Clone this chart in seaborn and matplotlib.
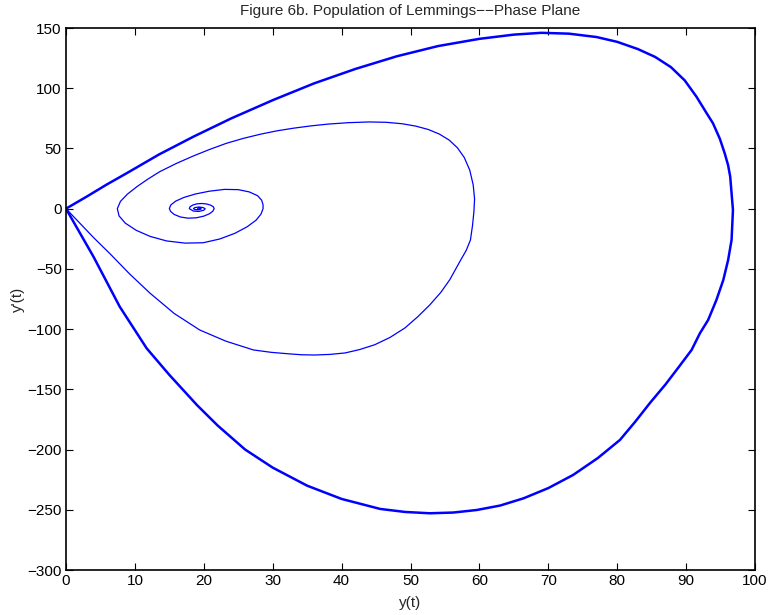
import numpy as np
import pandas as pd
import seaborn as sns
import matplotlib
matplotlib.use("Agg")
import matplotlib.pyplot as plt

sns.set_theme(style="white")
plt.rcParams["font.family"] = ["Liberation Sans", "DejaVu Sans"]

# transient: spiral out of the equilibrium, then the first big swing back to 0
spiral_y = [19.1, 19.3, 19.6, 19.6, 19.2, 18.7, 18.5, 18.7, 19.3, 19.9, 20.2, 20.0, 19.3, 18.5, 17.9,
            18.0, 18.4, 19.0, 19.7, 20.4, 21.0, 21.4, 21.5,
            21.3, 20.8, 20.0, 18.9, 17.7, 16.6, 15.7, 15.2, 15.0,
            15.2, 15.9, 17.1, 18.8, 20.8, 23.0, 25.0, 26.6, 27.8, 28.4, 28.6, 28.6,
            28.3, 27.6, 26.3, 24.5, 22.3, 19.9, 17.3, 14.6, 12.2, 10.2, 8.6, 7.7, 7.45,
            7.9, 8.9, 10.3, 11.9, 13.6, 16.0, 18.5, 20.9, 23.3, 25.7, 28.2, 30.6, 33.0, 35.5, 38.0, 41.0, 44.0,
            46.5, 48.8, 50.8, 52.6, 54.2, 55.6, 56.8, 57.8, 58.6, 59.1, 59.3, 59.2,
            59.0, 58.7, 58.1, 57.3, 55.7, 54.4, 52.8, 51.0, 49.2, 47.0, 44.8, 42.6, 40.5, 38.3, 36.1, 34.2, 32.5,
            29.8, 27.2, 23.2, 19.4, 15.7, 12.2, 9.2, 6.4, 4.0, 2.0, 0.0]
spiral_dy = [0.0, 0.5, 0.2, -0.4, -0.9, -0.7, 0.0, 0.9, 1.4, 0.9, 0.0, -1.3, -2.3, -2.0, 0.0,
             1.6, 3.0, 4.0, 4.3, 3.9, 2.9, 1.5, 0.0,
             -2.2, -4.3, -6.2, -7.6, -7.9, -6.9, -4.8, -2.4, 0.0,
             3.0, 6.2, 9.3, 12.2, 14.5, 16.0, 15.8, 13.9, 10.8, 7.0, 3.2, 0.0,
             -4.5, -9.5, -15.0, -20.5, -25.2, -28.3, -28.6, -26.8, -23.0, -18.0, -12.0, -6.0, 0.0,
             6.0, 12.0, 18.3, 24.6, 30.7, 37.5, 43.8, 49.3, 54.3, 58.3, 61.8, 64.6, 66.8, 68.7, 70.2, 71.4, 72.0,
             71.7, 70.5, 68.5, 65.7, 61.9, 57.0, 50.6, 42.5, 32.0, 19.7, 8.0, -2.7,
             -14.0, -26.0, -34.5, -42.5, -59.0, -69.5, -79.9, -90.0, -99.0, -107.0, -113.0, -117.0, -119.8, -121.0, -121.5, -121.3, -120.6,
             -119.3, -117.3, -110.0, -100.7, -87.0, -70.2, -54.0, -37.5, -24.0, -12.0, 0.0]

# limit cycle (traced several times in the original, drawn heavier)
cycle_y = [0.0, 3.0, 5.9, 8.8, 13.5, 18.5, 24.0, 30.1, 36.0, 42.0, 48.0, 54.0, 60.0, 65.0, 69.0, 73.0, 77.0,
           80.0, 83.0, 85.5, 87.8, 89.8, 91.5, 92.9, 93.9, 94.9, 95.6, 96.1, 96.4, 96.6, 96.8,
           96.6, 96.1, 95.4, 94.4, 93.2, 92.0, 90.8, 89.0, 87.0, 84.8, 82.6, 80.4, 77.2, 73.6, 70.0, 66.4,
           63.0, 59.6, 56.2, 52.8, 49.2, 45.6, 40.0, 35.0, 30.0, 26.0, 22.0, 19.0, 15.0, 11.7, 7.8, 4.0, 2.0, 0.0]
cycle_dy = [0.0, 10.0, 20.0, 29.4, 45.0, 59.8, 75.0, 90.3, 104.0, 116.0, 126.5, 135.0, 141.0, 144.5, 146.0, 145.3, 142.5,
            138.5, 132.5, 126.0, 117.5, 106.5, 93.0, 80.0, 70.9, 58.0, 46.0, 36.0, 26.6, 12.8, -1.0,
            -26.0, -42.6, -59.2, -75.8, -92.4, -103.5, -117.3, -131.0, -146.0, -161.0, -177.0, -192.0, -207.0, -221.1, -232.0, -240.5,
            -246.5, -250.2, -252.3, -252.9, -251.8, -249.3, -241.0, -230.0, -215.0, -200.0, -180.0, -163.0, -138.0, -115.9, -81.4, -40.0, -20.0, 0.0]

x_ticks = list(range(0, 101, 10))
y_ticks = list(range(-300, 151, 50))

df_spiral = pd.DataFrame({"y": spiral_y, "dy": spiral_dy})
df_cycle = pd.DataFrame({"y": cycle_y, "dy": cycle_dy})

fig = plt.figure(figsize=(7.68, 6.15), dpi=100)
ax = fig.add_axes([66 / 768, 1 - 570 / 615, (755 - 66) / 768, (570 - 28) / 615])

sns.lineplot(data=df_spiral, x="y", y="dy", sort=False, estimator=None, color="#0000ff", lw=0.9, ax=ax)
sns.lineplot(data=df_cycle, x="y", y="dy", sort=False, estimator=None, color="#0000ff", lw=1.8, ax=ax)

ax.set_xlim(0, 100)
ax.set_ylim(-300, 150)
ax.set_xticks(x_ticks)
ax.set_yticks(y_ticks)
ax.tick_params(direction="in", length=5, width=0.8, colors="black", labelsize=11,
               top=True, right=True, bottom=True, left=True, pad=3)
for s in ax.spines.values():
    s.set_color("black")
    s.set_linewidth(1.2)

ax.set_xlabel("y(t)", fontsize=11, labelpad=6)
ax.set_ylabel("y'(t)", fontsize=11, labelpad=2)
ax.set_title("Figure 6b. Population of Lemmings\u2212\u2212Phase Plane", fontsize=11, pad=9)

fig.savefig("out.png", dpi=100)
